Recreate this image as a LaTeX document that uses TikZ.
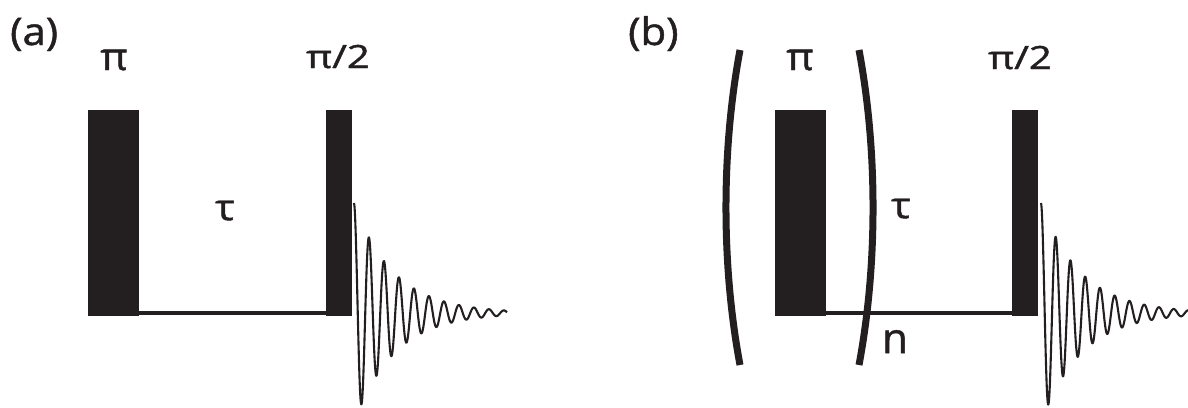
\documentclass[tikz,border=0pt]{standalone}
\usepackage{fontspec}
\usepackage{graphicx}
\setmainfont{Open Sans}
\newfontfamily\lblfont[FakeBold=1.2]{Open Sans}
\newcommand\wide[2]{\scalebox{#1}[1]{#2}}
\definecolor{ink}{HTML}{231F20}
\begin{document}
\begin{tikzpicture}[x=1pt,y=-1pt,
  pulse/.style={fill=ink, draw=none, inner sep=0pt, anchor=south west},
  base/.style={draw=ink, line width=4pt},
  fid/.style={draw=ink, line width=2.1pt, line join=round},
  paren/.style={draw=ink, line width=7pt},
  panel/.style={font=\lblfont\fontsize{38}{42}\selectfont, anchor=base west, inner sep=0pt, text=ink},
  lab/.style={font=\lblfont\fontsize{38}{42}\selectfont, anchor=base, inner sep=0pt, text=ink},
  tlab/.style={font=\lblfont\fontsize{36}{40}\selectfont, anchor=base, inner sep=0pt, text=ink},
  nlab/.style={font=\lblfont\fontsize{42}{46}\selectfont, anchor=base, inner sep=0pt, text=ink},
  small/.style={font=\lblfont\fontsize{32}{36}\selectfont, anchor=base, inner sep=0pt, text=ink}]
\useasboundingbox (0,0) rectangle (1188,407);
% ---------- (a) ----------
\node[panel] (la) at (10,45) {\wide{1.1}{(a)}};
\node[pulse, minimum width=51pt, minimum height=206pt] (a1) at (88,316) {};
\node[pulse, minimum width=26pt, minimum height=206pt] (a2) at (326,316) {};
\draw[base] ([yshift=3pt]a1.south east) -- ([yshift=3pt]a2.south west);
\node[lab] (pia) at (114,70) {\wide{1.1}{π}};
\node[small] (pi2a) at (338,68) {\wide{1.25}{π/2}};
\node[tlab] (taua) at (225,220) {\wide{1.15}{τ}};
\draw[fid] plot[domain=0:153, samples=500, smooth] ({354+\x}, {313-110*exp(-\x/40)*cos(24*\x)});
% ---------- (b) ----------
\node[panel] (lb) at (628,45) {\wide{1.1}{(b)}};
\node[pulse, minimum width=51pt, minimum height=206pt] (b1) at (775,316) {};
\node[pulse, minimum width=26pt, minimum height=206pt] (b2) at (1012,316) {};
\draw[base] ([yshift=3pt]b1.south east) -- ([yshift=3pt]b2.south west);
\coordinate (lpt) at (740,50);
\coordinate (lpb) at (740,365);
\coordinate (rpt) at (859,50);
\coordinate (rpb) at (859,365);
\draw[paren] (lpt) .. controls (721.3,150) and (721.3,265) .. (lpb);
\draw[paren] (rpt) .. controls (877.7,150) and (877.7,265) .. (rpb);
\node[lab] (pib) at (800,70) {\wide{1.1}{π}};
\node[small] (pi2b) at (1020,69) {\wide{1.25}{π/2}};
\node[tlab] (taub) at (901,218) {\wide{1.15}{τ}};
\node[nlab] (nb) at (895,353) {n};
\begin{scope}
\clip (0,0) rectangle (1188,407);
\draw[fid] plot[domain=0:150, samples=500, smooth] ({1041+\x}, {313-110*exp(-\x/40)*cos(24.4*\x)});
\end{scope}
\end{tikzpicture}
\end{document}
